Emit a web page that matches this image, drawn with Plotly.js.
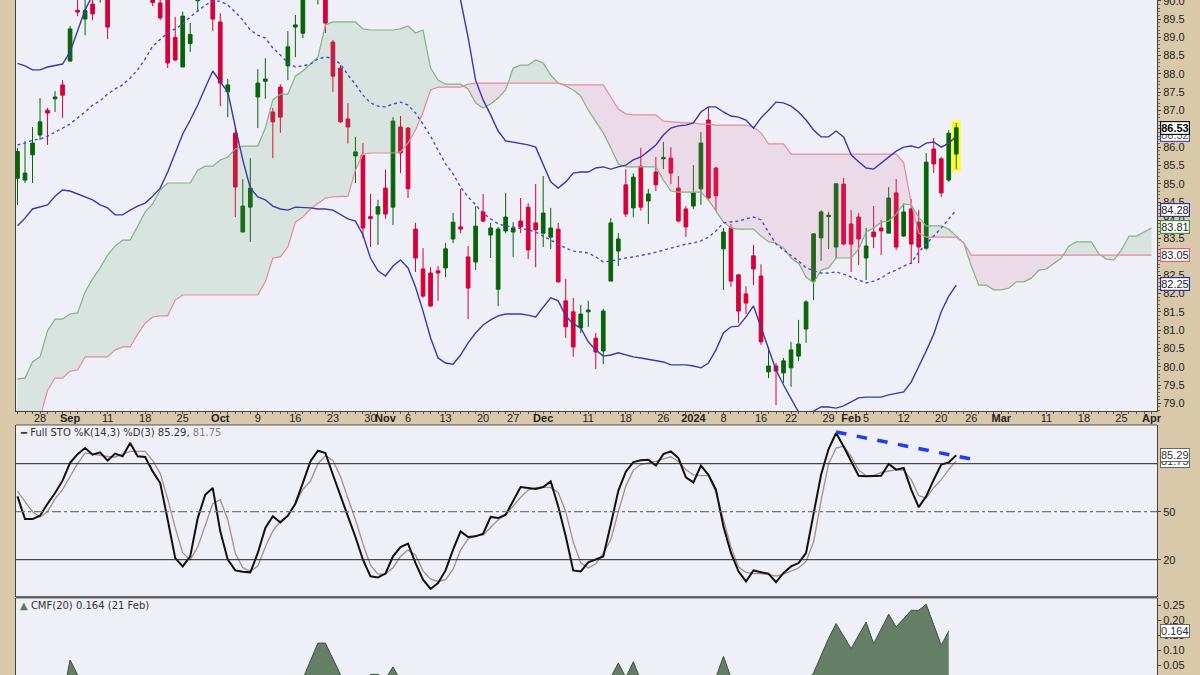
<!DOCTYPE html>
<html><head><meta charset="utf-8">
<script src="https://cdn.plot.ly/plotly-3.0.1.min.js"></script>
<style>html,body{margin:0;padding:0;background:#d9c9aa;}#chart{width:1200px;height:675px;}</style>
</head><body><div id="chart"></div>
<script>
// ---- Price data (trading-day index 0 = 23 Aug 2023 ... 125 = 22 Feb 2024) ----
const open = [85.15,85.10,85.79,86.33,87.01,87.32,87.70,88.35,89.74,89.50,
89.91,90.20,90.40,90.40,90.80,91.00,90.80,91.10,90.40,89.94,
90.30,89.00,88.19,88.83,90.00,90.50,90.60,89.42,87.51,86.38,
83.68,84.36,87.37,87.80,86.96,87.64,88.22,89.28,89.11,90.20,
90.30,90.40,88.87,88.16,86.77,85.76,85.78,84.10,84.17,84.88,
84.36,86.55,86.52,83.76,82.67,82.56,82.62,82.70,83.49,83.82,
83.00,82.86,84.23,83.60,82.12,83.71,83.68,83.98,84.36,83.93,
83.65,83.54,83.76,81.80,81.50,81.06,81.50,80.78,80.43,82.34,
83.16,84.97,84.34,85.48,84.53,85.32,85.68,85.70,84.88,84.31,
84.39,84.86,86.74,85.43,83.22,83.79,82.51,81.99,83.03,82.48,
79.86,80.02,79.83,79.97,80.29,81.03,82.34,83.52,84.10,83.27,
84.99,83.90,84.09,82.97,83.68,83.79,83.65,84.75,83.57,84.31,
83.95,83.24,85.95,85.68,85.10,85.81];
const high = [85.98,86.17,86.55,87.34,87.07,87.53,87.83,89.31,90.10,90.20,
90.10,90.70,90.60,91.00,91.30,91.30,91.40,91.30,90.60,90.10,
90.50,89.56,89.70,89.40,90.70,91.10,90.80,89.66,87.86,86.52,
85.13,85.70,88.13,88.43,87.07,87.72,89.17,89.61,90.40,90.80,
90.80,90.60,88.93,88.24,87.20,86.28,86.11,84.72,84.56,85.38,
86.82,86.85,86.55,83.93,83.24,82.72,82.75,83.38,84.20,84.86,
83.30,84.39,84.72,83.93,83.82,84.75,83.95,84.61,84.47,84.99,
85.21,84.34,83.93,82.40,81.88,81.69,81.80,80.92,81.58,84.06,
83.65,85.40,85.29,85.98,84.86,85.73,86.14,86.00,85.21,84.39,
85.51,86.41,87.10,85.46,83.79,83.90,82.53,82.20,83.33,82.80,
80.54,80.10,80.24,80.68,81.28,81.82,83.65,84.28,84.23,85.02,
85.16,84.28,84.20,83.79,84.39,84.01,84.91,85.13,84.47,84.58,
84.28,85.84,86.25,85.73,86.47,86.66];
const low = [84.42,85.02,85.02,86.19,86.06,86.96,86.80,88.35,89.58,89.06,
89.47,89.95,88.95,90.10,90.50,90.40,90.60,90.30,89.85,89.47,
88.16,88.35,88.19,88.60,89.70,90.20,89.17,87.12,86.82,84.09,
83.68,83.41,86.52,87.32,85.70,86.39,87.83,88.46,88.98,90.05,
89.90,89.12,87.51,86.66,86.10,85.02,83.52,83.27,83.33,84.04,
83.87,85.29,84.61,82.59,81.88,81.63,81.80,82.45,83.38,83.65,
81.30,82.64,83.95,82.97,81.66,83.65,83.00,83.65,82.94,82.72,
83.27,83.22,82.29,80.79,80.27,80.92,81.09,79.94,80.07,82.34,
82.75,84.09,84.09,84.26,83.90,84.80,85.40,84.99,83.95,83.55,
84.31,84.42,84.53,84.26,82.10,82.18,81.20,81.44,82.23,80.60,
79.69,78.95,79.56,79.45,80.16,80.65,81.82,82.89,83.22,82.97,
83.33,82.59,82.78,82.37,83.24,83.05,83.65,83.19,83.54,82.81,
82.83,83.19,85.29,84.64,85.05,85.40];
const close = [85.88,85.29,86.11,86.69,86.93,87.37,87.42,89.23,89.69,89.73,
89.64,90.50,89.28,90.80,91.00,90.70,91.20,90.60,89.95,89.53,
88.30,88.38,89.58,89.08,90.50,90.90,89.50,87.75,87.70,84.91,
84.39,84.88,87.75,87.86,86.69,86.82,88.74,89.34,90.20,90.60,
90.60,89.39,87.94,86.69,86.55,85.87,83.79,84.05,84.37,84.17,
86.71,85.84,84.86,82.97,81.93,81.66,82.56,83.22,83.95,83.76,
82.15,83.84,83.98,83.79,83.76,84.09,83.79,83.82,83.19,83.74,
84.20,83.79,82.32,81.09,80.54,81.44,81.55,80.40,81.52,83.93,
83.49,84.17,85.18,84.36,84.72,84.97,85.72,85.29,83.98,83.82,
84.75,86.11,84.61,84.67,83.68,82.34,81.52,81.74,82.67,80.68,
80.02,79.88,80.16,80.46,80.62,81.77,83.63,84.23,84.14,85.00,
83.35,83.35,83.49,83.30,83.55,83.71,84.61,83.27,84.23,83.35,
83.27,85.59,85.54,84.75,86.38,86.53];

// ---- Ichimoku cloud spans (run 26 sessions ahead, to index 151) ----
const spanA = [79.67,79.69,80.13,80.27,80.98,81.30,81.30,81.44,81.47,82.04,
82.40,82.70,83.05,83.30,83.46,83.46,83.84,84.23,84.45,84.83,
85.02,85.02,85.02,85.02,85.37,85.48,85.48,85.65,85.73,85.95,
86.03,86.03,86.03,86.52,87.29,87.45,87.45,87.94,88.08,88.27,
88.46,89.34,89.42,89.42,89.42,89.42,89.23,89.20,89.20,89.20,
89.20,89.23,89.31,89.12,89.20,88.16,87.83,87.72,87.72,87.72,
87.59,87.21,87.07,87.18,87.34,87.56,88.16,88.24,88.24,88.38,
88.30,87.97,87.75,87.67,87.56,87.40,87.01,86.71,86.39,85.98,
85.54,85.46,85.46,85.46,85.46,85.46,85.10,84.80,84.77,84.77,
84.77,84.77,84.56,84.25,83.95,83.79,83.76,83.76,83.76,83.57,
83.41,83.38,83.24,82.97,82.83,82.45,82.29,82.64,82.70,82.97,
82.97,82.97,83.22,83.68,83.79,83.95,83.98,84.17,84.45,84.42,
84.09,83.85,83.85,83.85,83.76,83.57,83.38,82.75,82.23,82.23,
82.10,82.10,82.15,82.32,82.32,82.42,82.64,82.67,82.81,82.97,
83.30,83.41,83.41,83.41,83.08,82.94,82.92,83.19,83.57,83.57,
83.68,83.79];
const spanB = [77.18,77.59,78.00,78.60,79.36,79.69,79.69,79.88,79.91,80.27,
80.27,80.27,80.27,80.46,80.54,80.54,80.89,81.19,81.36,81.39,
81.39,81.82,81.96,81.96,81.96,81.96,81.96,81.96,81.96,81.96,
81.96,81.96,81.96,82.32,82.97,83.00,83.27,83.95,84.09,84.31,
84.45,84.61,84.64,84.64,84.66,85.37,85.81,85.84,85.84,85.84,
85.84,85.87,86.11,86.47,86.96,87.56,87.64,87.64,87.64,87.64,
87.72,87.75,87.75,87.75,87.75,87.75,87.75,87.75,87.75,87.75,
87.75,87.75,87.75,87.70,87.70,87.70,87.70,87.70,87.70,87.37,
87.04,86.91,86.88,86.88,86.88,86.88,86.71,86.69,86.69,86.66,
86.66,86.63,86.63,86.60,86.60,86.60,86.60,86.60,86.55,86.39,
86.09,86.09,86.09,85.81,85.81,85.81,85.81,85.81,85.81,85.81,
85.81,85.81,85.81,85.81,85.81,85.81,85.81,85.81,85.57,84.47,
83.65,83.54,83.54,83.54,83.54,83.54,83.38,83.05,83.05,83.05,
83.05,83.05,83.05,83.05,83.05,83.05,83.05,83.05,83.05,83.05,
83.05,83.05,83.05,83.05,83.05,83.05,83.05,83.05,83.05,83.05,
83.05,83.05];

// ---- Bollinger Bands (20,2) ----
const bbUpper = [88.29,88.22,88.11,88.11,88.19,88.22,88.27,88.60,89.20,89.75,
90.15,90.55,90.90,91.10,91.30,91.50,91.80,92.30,92.80,93.00,
92.90,92.60,92.40,92.40,92.30,92.15,91.90,92.20,92.25,92.80,
93.30,93.50,93.50,93.40,93.00,92.70,92.30,92.00,92.10,92.20,
92.50,92.60,92.60,92.40,91.90,91.50,91.20,91.45,91.60,91.70,
91.60,91.55,91.60,91.70,91.75,91.80,91.60,91.00,90.45,90.02,
89.00,87.83,87.29,86.88,86.44,86.17,86.14,86.11,86.06,86.00,
85.51,85.05,84.88,85.05,85.29,85.32,85.32,85.43,85.46,85.40,
85.46,85.51,85.65,85.73,85.89,86.06,86.33,86.52,86.58,86.60,
86.66,86.96,87.10,87.10,86.96,86.85,86.82,86.74,86.52,86.80,
87.01,87.23,87.21,87.12,86.96,86.74,86.47,86.28,86.28,86.44,
86.28,85.79,85.60,85.43,85.40,85.57,85.73,85.89,86.00,86.03,
85.98,86.11,86.14,86.00,86.11,86.30];
const bbMiddle = [86.06,86.11,86.19,86.22,86.30,86.41,86.50,86.63,86.80,86.96,
87.15,87.26,87.45,87.59,87.70,87.89,88.11,88.41,88.76,88.95,
89.12,89.23,89.36,89.56,89.72,89.88,89.99,89.99,89.88,89.69,
89.47,89.20,89.06,88.98,88.71,88.52,88.30,88.19,88.22,88.27,
88.41,88.46,88.43,88.27,87.97,87.72,87.42,87.21,87.12,87.10,
87.18,87.23,87.15,86.93,86.63,86.30,85.92,85.54,85.27,84.91,
84.64,84.42,84.20,84.04,83.90,83.85,83.82,83.79,83.74,83.68,
83.57,83.46,83.35,83.24,83.16,83.13,83.11,83.00,82.86,82.89,
82.94,82.97,83.00,83.03,83.08,83.13,83.19,83.24,83.30,83.35,
83.38,83.44,83.54,83.71,83.93,83.95,83.98,84.04,84.09,84.01,
83.68,83.35,83.19,83.03,82.89,82.70,82.62,82.56,82.56,82.59,
82.53,82.45,82.37,82.29,82.34,82.42,82.56,82.64,82.75,82.83,
83.13,83.35,83.57,83.79,84.04,84.28];
const bbLower = [83.85,84.06,84.31,84.36,84.42,84.66,84.83,84.80,84.72,84.64,
84.56,84.42,84.34,84.15,84.15,84.28,84.39,84.47,84.66,84.88,
85.32,85.84,86.36,86.74,87.15,87.62,88.08,87.78,87.51,86.55,
85.65,84.88,84.64,84.56,84.39,84.31,84.28,84.36,84.36,84.34,
84.31,84.31,84.28,84.15,84.04,83.98,83.60,82.97,82.62,82.48,
82.75,82.92,82.70,82.18,81.52,80.79,80.24,80.10,80.07,80.32,
80.65,80.92,81.14,81.28,81.39,81.44,81.44,81.44,81.41,81.36,
81.63,81.88,81.80,81.39,81.17,81.06,80.68,80.46,80.29,80.32,
80.38,80.32,80.27,80.24,80.21,80.18,80.13,80.05,80.05,80.05,
80.02,79.97,80.10,80.46,80.92,81.09,81.11,81.36,81.66,81.09,
80.54,79.91,79.50,79.12,78.76,78.65,78.79,78.90,78.90,78.87,
78.93,79.04,79.15,79.17,79.17,79.17,79.23,79.28,79.31,79.58,
79.99,80.43,80.89,81.50,81.93,82.23];

// ---- Full Stochastics %K(14,3) %D(3) ----
const stochK = [59.6,45.4,45.4,47.5,55.0,61.7,69.4,80.5,86.0,89.8,
85.6,87.1,81.9,86.3,84.6,92.9,84.6,84.2,75.2,67.9,
45.0,21.0,15.8,22.1,46.0,60.6,64.8,37.7,20.0,13.3,
12.5,12.1,24.2,39.8,47.1,43.3,47.5,55.0,68.0,81.4,
88.1,86.7,73.1,60.6,47.1,34.2,20.0,9.6,8.9,11.3,
22.1,27.9,30.0,17.9,7.5,1.7,5.4,13.3,26.3,37.7,
34.2,34.6,36.3,46.7,46.0,48.1,56.5,65.4,64.8,64.2,
65.4,68.9,53.3,34.6,13.3,12.7,18.3,20.0,22.0,42.0,
63.0,75.0,81.0,82.1,82.5,78.8,86.0,87.7,83.5,71.5,
68.3,78.8,73.1,63.8,40.8,24.2,12.7,6.4,13.3,12.1,
11.3,6.0,11.7,15.8,17.9,24.2,48.1,73.1,89.2,99.2,
90.8,81.4,72.5,72.1,72.5,72.5,79.8,76.3,77.3,63.8,
52.9,59.6,70.0,79.4,80.8,85.29];
const stochD = [62.7,56.0,50.0,46.7,50.0,58.0,63.8,72.0,80.0,86.7,
86.0,85.0,84.5,84.2,86.0,87.7,87.7,87.7,82.0,74.0,
58.0,40.0,24.2,20.0,28.0,41.0,55.0,57.5,45.0,24.0,
15.0,12.7,16.0,28.0,38.0,44.0,47.5,55.0,64.0,69.0,
80.0,85.0,82.0,72.0,59.0,45.0,30.0,16.5,11.0,11.0,
15.0,22.0,26.0,23.0,13.0,8.0,6.4,7.5,14.0,26.0,
33.0,35.0,35.4,40.0,45.0,48.0,53.8,59.0,63.5,65.0,
65.4,65.0,62.0,50.0,31.0,18.0,14.8,17.5,24.0,32.5,
50.0,66.0,76.0,79.5,80.5,81.4,83.0,84.3,81.4,76.3,
73.0,72.5,72.5,62.0,45.0,28.0,15.5,12.0,11.3,11.3,
10.6,9.8,11.0,13.0,14.8,18.9,31.0,57.0,80.0,89.8,
91.0,84.6,76.0,72.5,72.5,74.5,75.5,76.3,75.8,70.0,
60.0,58.5,65.0,70.0,76.3,81.75];
const trendX = [109, 127];
const trendY = [99.8, 82.9];

// ---- Chaikin Money Flow (20), last value 21 Feb (index 124) ----
const cmf = [-0.05,-0.06,-0.05,-0.04,-0.03,-0.04,-0.06,0.068,0.015,-0.03,
-0.05,-0.06,-0.08,-0.09,-0.10,-0.10,-0.09,-0.08,-0.07,-0.06,
-0.07,-0.08,-0.08,-0.07,-0.06,-0.05,-0.05,-0.06,-0.07,-0.08,
-0.07,-0.06,-0.04,-0.03,-0.02,-0.02,-0.01,-0.01,0.005,0.065,
0.124,0.124,0.07,0.02,-0.02,-0.01,-0.01,0.02,0.02,0.005,
0.045,0.0,-0.02,-0.04,-0.05,-0.06,-0.06,-0.05,-0.05,-0.04,
-0.05,-0.04,-0.04,-0.03,-0.03,-0.02,-0.03,-0.03,-0.04,-0.04,
-0.03,-0.02,-0.04,-0.06,-0.07,-0.05,-0.04,-0.03,0.0,0.01,
0.058,0.01,0.062,0.0,-0.01,-0.02,-0.02,-0.03,-0.03,-0.02,
-0.02,-0.01,0.0,0.01,0.08,0.01,-0.02,-0.03,-0.03,-0.05,
-0.06,-0.07,-0.06,-0.05,-0.03,-0.01,0.025,0.085,0.14,0.189,
0.148,0.106,0.15,0.194,0.122,0.17,0.22,0.178,0.205,0.233,
0.233,0.253,0.185,0.117,0.164];

// ---- Axis ticks (trading-day index -> label) ----
const tickIdx = [3,7,12,17,22,27,32,37,42,47,49,52,57,62,66,70,76,81,86,90,94,99,103,108,111,113,118,123,127,131,137,142,147,151];
const tickLabels = ['28','Sep','11','18','25','Oct','9','16','23','30','Nov','6','13','20','27','Dec','11','18','26','2024','8','16','22','29','Feb','5','12','20','26','Mar','11','18','25','Apr'];
const priceTags = [86.32, 86.53, 84.28, 83.81, 83.05, 82.25];
const stochTags = [81.75, 85.29];
const cmfTag = 0.164;

// ---------------- build ----------------
const idx = close.map((_, i) => i);
const cIdx = spanA.map((_, i) => i);
const cmfIdx = cmf.map((_, i) => i);

// insert crossing points so the two-coloured cloud fills meet exactly
const cx = [], cA = [], cB = [];
for (let i = 0; i < spanA.length; i++) {
  cx.push(i); cA.push(spanA[i]); cB.push(spanB[i]);
  if (i < spanA.length - 1) {
    const d0 = spanA[i] - spanB[i], d1 = spanA[i+1] - spanB[i+1];
    if (d0 * d1 < 0) {
      const t = d0 / (d0 - d1);
      const yc = spanA[i] + t * (spanA[i+1] - spanA[i]);
      cx.push(i + t); cA.push(yc); cB.push(yc);
    }
  }
}
const cMax = cA.map((v, k) => Math.max(v, cB[k]));
const noLine = {width: 0};
const traces = [
  {x: cx, y: cB, mode: 'lines', line: noLine, hoverinfo: 'skip'},
  {x: cx, y: cMax, mode: 'lines', line: noLine, fill: 'tonexty', fillcolor: 'rgba(105,165,105,0.16)', hoverinfo: 'skip'},
  {x: cx, y: cA, mode: 'lines', line: noLine, hoverinfo: 'skip'},
  {x: cx, y: cMax, mode: 'lines', line: noLine, fill: 'tonexty', fillcolor: 'rgba(215,110,150,0.16)', hoverinfo: 'skip'},
  {x: cIdx, y: spanA, mode: 'lines', line: {color: '#84b384', width: 1.2}},
  {x: cIdx, y: spanB, mode: 'lines', line: {color: '#e48b9e', width: 1.2}},
  {type: 'candlestick', x: idx, open: open, high: high, low: low, close: close,
   increasing: {line: {color: '#096409', width: 1}, fillcolor: '#096409'},
   decreasing: {line: {color: '#d6003a', width: 1}, fillcolor: '#d6003a'},
   whiskerwidth: 0, hoverinfo: 'skip'},
  {x: idx, y: bbUpper, mode: 'lines', line: {color: '#3a3aa6', width: 1.4}},
  {x: idx, y: bbLower, mode: 'lines', line: {color: '#3a3aa6', width: 1.4}},
  {x: idx, y: bbMiddle, mode: 'lines', line: {color: '#4b4bcf', width: 1.4, dash: 'dot'}},
  // stochastics
  {x: idx, y: stochD, xaxis: 'x', yaxis: 'y2', mode: 'lines', line: {color: '#a09090', width: 1.3}},
  {x: idx, y: stochK, xaxis: 'x', yaxis: 'y2', mode: 'lines', line: {color: '#111111', width: 2}},
  {x: trendX, y: trendY, xaxis: 'x', yaxis: 'y2', mode: 'lines', line: {color: '#1f3df5', width: 3.5, dash: 'dash'}},
  // CMF
  {x: cmfIdx, y: cmf, xaxis: 'x', yaxis: 'y3', mode: 'lines', fill: 'tozeroy', fillcolor: '#657f66', line: {color: '#3f4f3f', width: 1}}
];

const axFont = {family: 'Liberation Sans, Arial, sans-serif', size: 11, color: '#222'};
const last = close.length - 1;
const shapes = [
  {type: 'rect', xref: 'x', yref: 'y', x0: last - 0.6, x1: last + 0.6, y0: low[last] - 0.06, y1: high[last] + 0.06,
   fillcolor: '#ffff30', line: {width: 0}, layer: 'below'},
  {type: 'line', xref: 'paper', yref: 'y2', x0: 0, x1: 1, y0: 80, y1: 80, line: {color: '#222', width: 1}},
  {type: 'line', xref: 'paper', yref: 'y2', x0: 0, x1: 1, y0: 20, y1: 20, line: {color: '#222', width: 1}},
  {type: 'line', xref: 'paper', yref: 'y2', x0: 0, x1: 1, y0: 50, y1: 50, line: {color: '#777', width: 1.2, dash: 'dashdot'}},
  {type: 'line', xref: 'paper', yref: 'paper', x0: 0, x1: 1, y0: 0.3704, y1: 0.3704, line: {color: '#555', width: 1}},
  {type: 'line', xref: 'paper', yref: 'paper', x0: 0, x1: 1, y0: 0.1152, y1: 0.1152, line: {color: '#666', width: 2.5}}
];

const tagStyle = [
  {border: '#4848b8', color: '#555', bold: false},
  {border: '#111', color: '#000', bold: true},
  {border: '#3030a0', color: '#222', bold: false},
  {border: '#3c9a3c', color: '#222', bold: false},
  {border: '#e0607e', color: '#222', bold: false},
  {border: '#3030a0', color: '#222', bold: false}
];
const annotations = priceTags.map((v, k) => ({
  xref: 'paper', yref: 'y', x: 1, y: v, xanchor: 'left', yanchor: 'middle', xshift: 3,
  text: tagStyle[k].bold ? '<b>' + v.toFixed(2) + '</b>' : v.toFixed(2), showarrow: false,
  font: {family: 'Liberation Sans, Arial, sans-serif', size: 11, color: tagStyle[k].color},
  bgcolor: '#ffffff', bordercolor: tagStyle[k].border, borderwidth: 1.2, borderpad: 0
}));
stochTags.forEach((v) => annotations.push({
  xref: 'paper', yref: 'y2', x: 1, y: v, xanchor: 'left', yanchor: 'middle', xshift: 3,
  text: v.toFixed(2), showarrow: false,
  font: {family: 'Liberation Sans, Arial, sans-serif', size: 11, color: '#333'},
  bgcolor: '#ffffff', bordercolor: '#666', borderwidth: 1, borderpad: 0
}));
annotations.push({
  xref: 'paper', yref: 'y3', x: 1, y: cmfTag, xanchor: 'left', yanchor: 'middle', xshift: 3,
  text: cmfTag.toFixed(3), showarrow: false,
  font: {family: 'Liberation Sans, Arial, sans-serif', size: 11, color: '#333'},
  bgcolor: '#ffffff', bordercolor: '#666', borderwidth: 1, borderpad: 0
});
annotations.push({
  xref: 'paper', yref: 'paper', x: 0.002, y: 0.36, xanchor: 'left', yanchor: 'middle', showarrow: false,
  text: '<b>━</b> Full STO %K(14,3) %D(3) ' + stochK[last].toFixed(2) + ', <span style="color:#8a7c7c">' + stochD[last].toFixed(2) + '</span>',
  font: {family: 'DejaVu Sans, Verdana, sans-serif', size: 10, color: '#333'}
});
annotations.push({
  xref: 'paper', yref: 'paper', x: 0.002, y: 0.1035, xanchor: 'left', yanchor: 'middle', showarrow: false,
  text: '<span style="color:#5f7a60">▲</span> CMF(20) ' + cmf[cmf.length - 1].toFixed(3) + ' (21 Feb)',
  font: {family: 'DejaVu Sans, Verdana, sans-serif', size: 10, color: '#333'}
});

const layout = {
  width: 1200, height: 675,
  margin: {l: 16, r: 43, t: 0, b: 0},
  paper_bgcolor: '#d9c9aa', plot_bgcolor: '#efeff7',
  showlegend: false, hovermode: false,
  xaxis: {
    range: [-0.2, 151.73], tickmode: 'array', tickvals: tickIdx,
    ticktext: tickLabels.map(t => /^[A-Z]|^20\d\d$/.test(t) ? '<b>' + t + '</b>' : t),
    tickangle: 0, ticklabelstandoff: -3,
    ticks: '', showgrid: false, zeroline: false, showline: true, linecolor: '#444', linewidth: 1,
    tickfont: axFont, rangeslider: {visible: false}, anchor: 'y',
    minor: {tickmode: 'linear', tick0: 0, dtick: 1, ticks: 'outside', ticklen: 2, tickcolor: '#555', showgrid: false}
  },
  yaxis: {
    domain: [0.3911, 1], range: [78.79, 90.02], side: 'right', tick0: 79, dtick: 0.5, tickformat: '.1f',
    ticks: 'outside', ticklen: 3, tickcolor: '#444', showgrid: false, zeroline: false,
    showline: true, mirror: true, linecolor: '#444', tickfont: axFont, ticklabeloverflow: 'allow',
    minor: {dtick: 0.1, ticks: 'outside', ticklen: 2, tickcolor: '#666', showgrid: false}
  },
  yaxis2: {
    domain: [0.1156, 0.3704], range: [-3.3, 104.2], side: 'right', anchor: 'x',
    tickmode: 'array', tickvals: [20, 50], ticktext: ['20', '50'],
    ticks: 'outside', ticklen: 3, tickcolor: '#444', showgrid: false, zeroline: false,
    showline: true, mirror: true, linecolor: '#444', tickfont: axFont
  },
  yaxis3: {
    domain: [0, 0.1141], range: [0.018, 0.274], side: 'right', anchor: 'x',
    tickmode: 'array', tickvals: [0.05, 0.10, 0.15, 0.20, 0.25], tickformat: '.2f',
    ticks: 'outside', ticklen: 3, tickcolor: '#444', showgrid: false, zeroline: false,
    showline: true, mirror: true, linecolor: '#444', tickfont: axFont
  },
  shapes: shapes,
  annotations: annotations
};
traces.forEach(t => { if (t.showlegend === undefined) t.showlegend = false; });
Plotly.newPlot('chart', traces, layout, {staticPlot: true, displayModeBar: false});
</script>
</body></html>
